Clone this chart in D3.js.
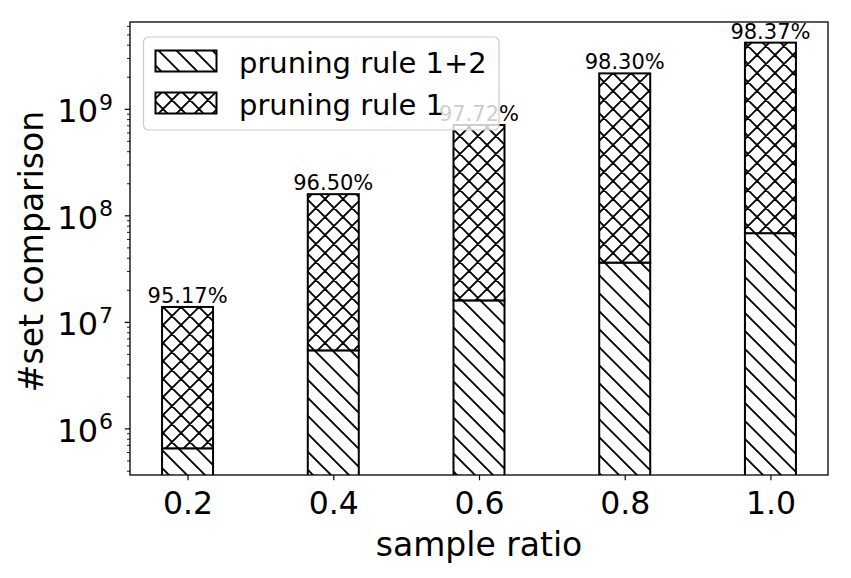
<!DOCTYPE html>
<html><head><meta charset="utf-8">
<script src="https://cdn.jsdelivr.net/npm/d3@7"></script>
<style>body{margin:0;background:#fff} text{font-family:"DejaVu Sans",sans-serif;fill:#000}</style>
</head><body><svg id="c" width="851" height="578"></svg>
<script>
const ratios = [0.2, 0.4, 0.6, 0.8, 1.0];
const tickLabels = ["0.2", "0.4", "0.6", "0.8", "1.0"];
const rule1 = [1.38e7, 1.58e8, 7.05e8, 2.15e9, 4.18e9];
const rule12 = [6.5e5, 5.4e6, 1.59e7, 3.6e7, 6.8e7];
const pctLabels = ["95.17%", "96.50%", "97.72%", "98.30%", "98.37%"];
const seriesNames = ["pruning rule 1+2", "pruning rule 1"];
const yMajor = [1e6, 1e7, 1e8, 1e9];
const yExp = ["6", "7", "8", "9"];

const svg = d3.select("#c");
const m = {l: 130, r: 828, t: 22, b: 475};
const x = d3.scaleLinear().domain([0.121, 1.079]).range([m.l, m.r]);
const y = d3.scaleLog().domain([3.65e5, 6.53e9]).range([m.b, m.t]);
const barW = 0.07;
const T = 18;

const defs = svg.append("defs");
function makePattern(id, fams) {
  const p = defs.append("pattern").attr("id", id).attr("patternUnits", "userSpaceOnUse")
    .attr("width", T).attr("height", T);
  p.append("rect").attr("width", T).attr("height", T).attr("fill", "#fff");
  let d = "";
  fams.forEach(f => {
    for (let k = -3; k <= 3; k++) {
      if (f.type === "back") d += `M${-T},${-T + f.c + k*T}L${2*T},${2*T + f.c + k*T}`;
      else d += `M${-T},${T + f.c + k*T}L${2*T},${-2*T + f.c + k*T}`;
    }
  });
  p.append("path").attr("d", d).attr("stroke", "#000").attr("stroke-width", 1.9).attr("fill", "none");
}
makePattern("hBack", [{type: "back", c: 0}]);
makePattern("hCross", [{type: "back", c: 0}, {type: "fwd", c: 2}]);

defs.append("clipPath").attr("id", "plotClip").append("rect")
  .attr("x", m.l).attr("y", m.t).attr("width", m.r - m.l).attr("height", m.b - m.t);

const bars = svg.append("g").attr("clip-path", "url(#plotClip)");
ratios.forEach((r, i) => {
  const x0 = x(r - barW/2), x1 = x(r + barW/2);
  bars.append("rect").attr("x", x0).attr("width", x1 - x0)
    .attr("y", y(rule12[i])).attr("height", m.b + 20 - y(rule12[i]))
    .attr("fill", "url(#hBack)").attr("stroke", "#000").attr("stroke-width", 2);
  bars.append("rect").attr("x", x0).attr("width", x1 - x0)
    .attr("y", y(rule1[i])).attr("height", y(rule12[i]) - y(rule1[i]))
    .attr("fill", "url(#hCross)").attr("stroke", "#000").attr("stroke-width", 2);
});

// x axis
const xa = svg.append("g").attr("transform", `translate(0,${m.b})`)
  .call(d3.axisBottom(x).tickValues(ratios).tickFormat((d, i) => tickLabels[i]).tickSize(5.25));
xa.select(".domain").remove();
xa.selectAll(".tick line").attr("stroke", "#000").attr("stroke-width", 1.2);
xa.selectAll(".tick text").attr("dy", null).attr("y", 39).attr("font-size", 31.5)
  .attr("font-family", "DejaVu Sans").attr("fill", "#000");

// y axis major
const ya = svg.append("g").attr("transform", `translate(${m.l},0)`)
  .call(d3.axisLeft(y).tickValues(yMajor).tickFormat("").tickSize(5.25));
ya.select(".domain").remove();
ya.selectAll(".tick line").attr("stroke", "#000").attr("stroke-width", 1.2);
ya.selectAll(".tick").each(function(d, i) {
  const t = d3.select(this).append("text").attr("x", -17).attr("y", 12.7)
    .attr("text-anchor", "end").attr("font-size", 32).attr("fill", "#000");
  t.append("tspan").text("10");
  t.append("tspan").attr("dy", -12.5).attr("dx", 1).attr("font-size", 22).text(yExp[i]);
});
// y minor
const minor = [];
for (let e = 5; e <= 9; e++) for (let k = 2; k <= 9; k++) {
  const v = k * Math.pow(10, e);
  if (v >= y.domain()[0] && v <= y.domain()[1]) minor.push(v);
}
const ym = svg.append("g").attr("transform", `translate(${m.l},0)`)
  .call(d3.axisLeft(y).tickValues(minor).tickFormat("").tickSize(3));
ym.select(".domain").remove();
ym.selectAll(".tick line").attr("stroke", "#000").attr("stroke-width", 0.9);

// frame
svg.append("rect").attr("x", m.l).attr("y", m.t).attr("width", m.r - m.l).attr("height", m.b - m.t)
  .attr("fill", "none").attr("stroke", "#000").attr("stroke-width", 1.3);

// percent labels
svg.append("g").selectAll("text").data(ratios).join("text")
  .attr("x", d => x(d)).attr("y", (d, i) => y(rule1[i]) - 4)
  .attr("text-anchor", "middle").attr("font-size", 21).text((d, i) => pctLabels[i]);

// axis labels
svg.append("text").attr("x", (m.l + m.r)/2).attr("y", 556).attr("text-anchor", "middle")
  .attr("font-size", 33).text("sample ratio");
svg.append("text").attr("transform", `translate(43,${(m.t + m.b)/2 + 3}) rotate(-90)`)
  .attr("text-anchor", "middle").attr("font-size", 33).text("#set comparison");

// legend
const lg = svg.append("g");
lg.append("rect").attr("x", 143.5).attr("y", 37).attr("width", 355.5).attr("height", 93).attr("rx", 5)
  .attr("fill", "#fff").attr("fill-opacity", 0.8).attr("stroke", "#cccccc").attr("stroke-width", 1.2);
const pats = ["url(#hBack)", "url(#hCross)"];
seriesNames.forEach((s, i) => {
  const yy = 50.5 + i * 42;
  lg.append("rect").attr("x", 155.5).attr("y", yy).attr("width", 61).attr("height", 21)
    .attr("fill", pats[i]).attr("stroke", "#000").attr("stroke-width", 2);
  lg.append("text").attr("x", 239).attr("y", yy + 22).attr("font-size", 29).text(s);
});
</script></body></html>
